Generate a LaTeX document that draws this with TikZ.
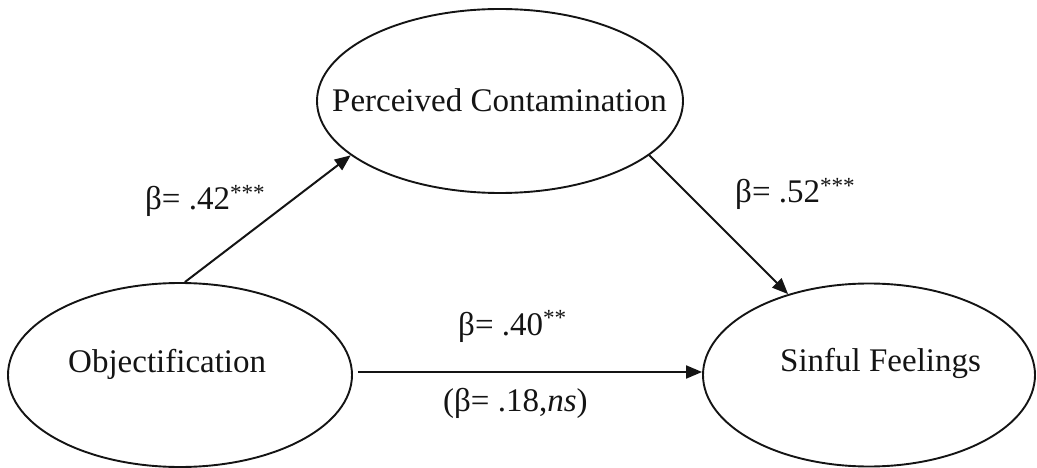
\documentclass[tikz,border=0pt]{standalone}
\usepackage{fontspec}
\setmainfont{Liberation Serif}
\usetikzlibrary{shapes.geometric,arrows.meta}
\tikzset{
  oval/.style={draw=black!92, line width=1.9pt, ellipse, inner sep=0pt},
  lbl/.style={anchor=base west, inner sep=0pt, font=\fontsize{33}{38}\selectfont, text=black!92},
  arr/.style={draw=black!92, line width=2pt, -{Triangle[length=16pt,width=13pt]}}
}
\begin{document}
\begin{tikzpicture}[x=1pt,y=-1pt]
\useasboundingbox (0,0) rectangle (1037,468);
% ellipses
\node[oval, minimum width=344pt, minimum height=184pt] (O) at (180,375) {};
\node[oval, minimum width=366pt, minimum height=184pt] (P) at (500,101) {};
\node[oval, minimum width=332pt, minimum height=183pt] (S) at (869,375) {};
% ellipse texts
\node[lbl] (Ot) at (68,372) {Objectification};
\node[lbl] (Pt) at (332,112) {Perceived Contamination};
\node[lbl] (St) at (780,371) {Sinful Feelings};
% connectors
\draw[arr] (O.87) -- (P.200);
\draw[arr] (P.-20) -- (S.135);
\draw[arr, shorten <=5pt] ([yshift=3pt]O.east) -- ([yshift=3pt]S.west);
% path labels
\node[lbl] (L42) at (145,210) {β= .42\textsuperscript{***}};
\node[lbl] (L52) at (735,203) {β= .52\textsuperscript{***}};
\node[lbl] (L40) at (458,335) {β= .40\textsuperscript{**}};
\node[lbl] (L18) at (443,411) {(β= .18,\textit{ns})};
\end{tikzpicture}
\end{document}
